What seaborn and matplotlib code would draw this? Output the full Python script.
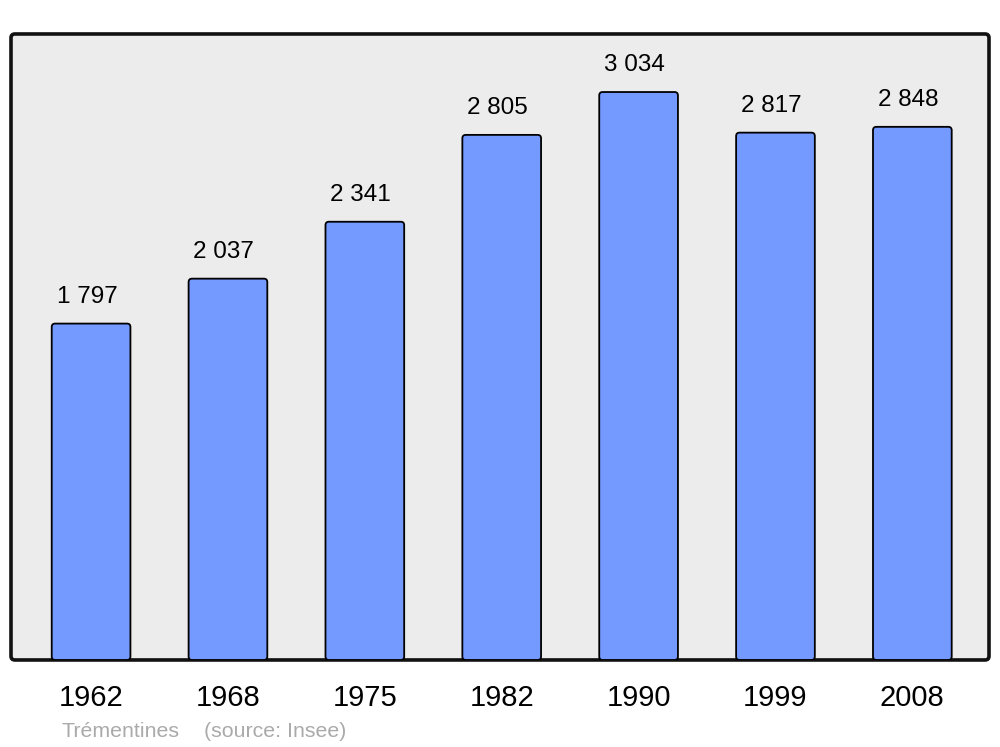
import pandas as pd
import matplotlib
matplotlib.use("Agg")
import matplotlib.pyplot as plt
import seaborn as sns
from matplotlib.patches import FancyBboxPatch

years = ["1962", "1968", "1975", "1982", "1990", "1999", "2008"]
population = [1797, 2037, 2341, 2805, 3034, 2817, 2848]
commune = "Trémentines"
source = "(source: Insee)"

sns.set_style("white")
plt.rcParams['font.family'] = ['Liberation Sans', 'DejaVu Sans']

df = pd.DataFrame({"year": years, "pop": population})

fig = plt.figure(figsize=(10, 7.47), dpi=100)
ax = fig.add_axes([0.011, 0.1165, 0.978, 0.838])
ax.set_facecolor("none")

sns.barplot(data=df, x="year", y="pop", color="#7499FF", width=0.575,
            saturation=1, edgecolor="black", linewidth=1.3, ax=ax)

ax.set_xlim(-0.585, 6.56)
ax.set_ylim(0, 3344)

# background frame with rounded corners
frame = FancyBboxPatch((0, 0), 1, 1, boxstyle="round,pad=0,rounding_size=0.004",
                       mutation_aspect=978 / 626, transform=ax.transAxes,
                       facecolor="#ECECEC", edgecolor="#111111", linewidth=2.6,
                       zorder=0, clip_on=False)
ax.add_patch(frame)

# bars with slightly rounded corners
for p in list(ax.patches):
    if p is frame:
        continue
    x, y = p.get_x(), p.get_y()
    w, h = p.get_width(), p.get_height()
    rb = FancyBboxPatch((x, y), w, h, boxstyle="round,pad=0,rounding_size=0.025",
                        mutation_aspect=732, facecolor=p.get_facecolor(),
                        edgecolor="black", linewidth=1.3, zorder=2)
    p.remove()
    ax.add_patch(rb)

for i, v in enumerate(population):
    ax.annotate(f"{v:,}".replace(",", " "), (i, v), xytext=(-3, 15),
                textcoords="offset points", ha="center", va="baseline",
                fontsize=17.5, color="black")

for s in ax.spines.values():
    s.set_visible(False)
ax.set_xlabel("")
ax.set_ylabel("")
ax.set_yticks([])
ax.tick_params(axis="x", length=0, pad=17, labelsize=21, labelcolor="black")

fig.text(0.061, 1 - 737 / 747, commune, fontsize=15.4, color="#AAAAAA", va="baseline")
fig.text(0.204, 1 - 737 / 747, source, fontsize=15.4, color="#AAAAAA", va="baseline")

fig.savefig("out.png", dpi=100)
